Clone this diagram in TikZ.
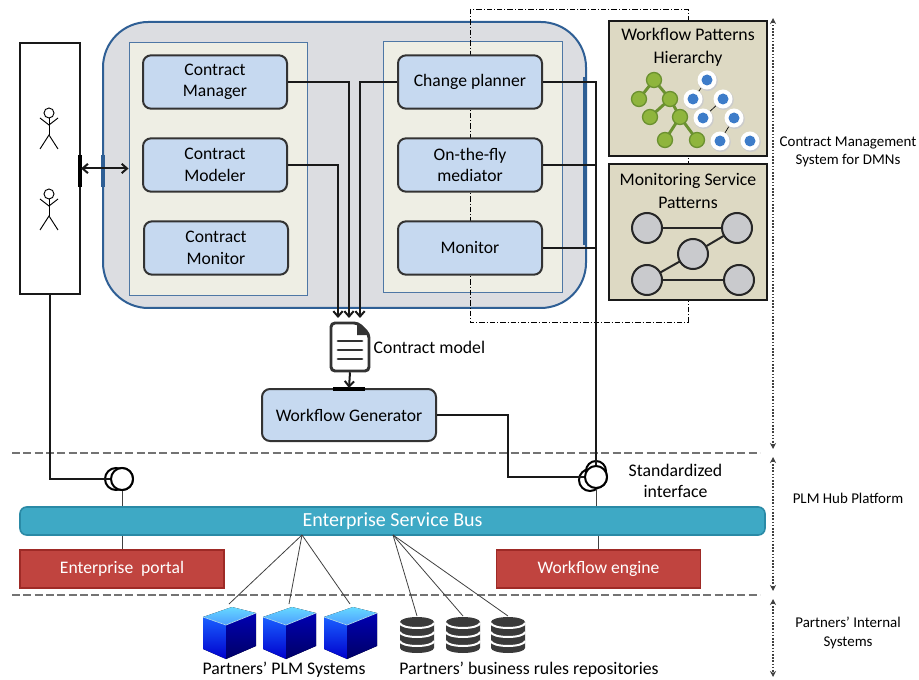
\documentclass[tikz,border=0pt]{standalone}
\usepackage{fontspec}
\setmainfont{Carlito}
\usetikzlibrary{arrows.meta}

\definecolor{cinzaSistema}{HTML}{DCDDE1}
\definecolor{azulBorda}{HTML}{2F5F95}
\definecolor{bege}{HTML}{EEEEE4}
\definecolor{azulModulo}{HTML}{C6D9F0}
\definecolor{caqui}{HTML}{DDD9C3}
\definecolor{verdeNo}{HTML}{8FB53D}
\definecolor{verdeBorda}{HTML}{6B9130}
\definecolor{azulPonto}{HTML}{3D7CC9}
\definecolor{cinzaNo}{HTML}{C9CACD}
\definecolor{barramento}{HTML}{3EA9C5}
\definecolor{barramentoBorda}{HTML}{2A8AA6}
\definecolor{vermelho}{HTML}{C0443F}
\definecolor{vermelhoBorda}{HTML}{9E2A26}
\definecolor{cinzaBanco}{HTML}{3A3A3A}

\begin{document}
\begin{tikzpicture}[x=0.75pt, y=-0.75pt, >={Straight Barb[length=4pt,width=7pt]},
    modulo/.style={draw=black!80, line width=1.5pt, fill=azulModulo, rounded corners=6pt,
        minimum width=108pt, minimum height=40pt, align=center, font=\fontsize{13.2}{16}\selectfont},
    painel/.style={draw=azulBorda!85, line width=0.7pt, fill=bege},
    padrao/.style={draw=black!90, line width=2pt, fill=caqui, minimum width=118.5pt},
    titulo/.style={align=center, font=\fontsize{13.3}{17}\selectfont},
    lateral/.style={align=center, font=\fontsize{11.2}{13.8}\selectfont},
    conn/.style={draw=black!90, line width=1.5pt},
    fio/.style={draw=black!75, line width=0.6pt},
    divisa/.style={draw=black!55, line width=1pt, dash pattern=on 6pt off 2.5pt},
    cota/.style={draw=black!75, line width=0.8pt, dash pattern=on 1.2pt off 1.2pt,
        {Stealth[length=4.5pt,width=4.5pt]}-{Stealth[length=4.5pt,width=4.5pt]}},
    interface/.style={circle, draw=black, line width=1.5pt, fill=white, minimum size=16.5pt, inner sep=0pt},
    caixaVermelha/.style={draw=vermelhoBorda, line width=1.2pt, fill=vermelho, text=white,
        minimum width=153pt, minimum height=28.5pt, font=\fontsize{13.2}{15}\selectfont}]

    \useasboundingbox (0,0) rectangle (919,680);

    % Atores
    \node[draw=black!90, line width=1.6pt, fill=white, minimum width=45pt, minimum height=188.25pt] (atores) at (50,168.5) {};
    \foreach \dy in {0,81} {
        \draw[line width=0.7pt] (49,113+\dy) circle (5);
        \draw[line width=0.7pt] (49,118+\dy) -- (49,135+\dy);
        \draw[line width=0.7pt] (40,118+\dy) -- (49,125+\dy) -- (58,118+\dy);
        \draw[line width=0.7pt] (40,149+\dy) -- (49,135+\dy) -- (58,149+\dy);
    }

    % Sistema de gestao de contratos
    \node[draw=azulBorda, line width=1.5pt, fill=cinzaSistema, rounded corners=34pt,
        minimum width=362.25pt, minimum height=214.5pt] (sistema) at (344.5,165) {};
    \node[painel, minimum width=133.5pt, minimum height=189.75pt] (pEsq) at (218,168.5) {};
    \node[painel, minimum width=134.25pt, minimum height=188.25pt] (pDir) at (472.5,166.5) {};
    \draw[azulBorda, line width=2.5pt] (585,77) -- (585,245);

    % Contorno traco-ponto
    \draw[line width=0.6pt, dash pattern=on 4pt off 1.5pt on 0.8pt off 1.5pt] (470,9) rectangle (688,322);

    % Modulos
    \node[modulo] (cman) at (215,82) {Contract\\Manager};
    \node[modulo] (cmod) at (215,165) {Contract\\Modeler};
    \node[modulo] (cmon) at (216,248) {Contract\\Monitor};
    \node[modulo] (cp) at (470,82) {Change planner};
    \node[modulo] (med) at (470,165) {On-the-fly\\mediator};
    \node[modulo] (mon) at (470,248) {Monitor};

    % Ligacao atores - sistema
    \draw[line width=2.5pt] (80,155) -- (80,187);
    \draw[azulBorda, line width=2.5pt] (103,155) -- (103,187);
    \draw[conn, <->] (atores.east) -- (pEsq.west);

    % Modelo de contrato
    \node[minimum width=30pt, minimum height=37.5pt, inner sep=0pt] (doc) at (350,347) {};
    \draw[black!80, line width=2.2pt, fill=white, rounded corners=3pt]
        (331,323) -- (358,323) -- (369,334) -- (369,371) -- (331,371) -- cycle;
    \fill[black!80] (357,323) -- (369,335) -- (357,335) -- cycle;
    \draw[black!80, line width=2.2pt, line cap=round] (338,341) -- (362,341);
    \draw[black!80, line width=2.2pt, line cap=round] (338,350) -- (362,350);
    \draw[black!80, line width=2.2pt, line cap=round] (338,359) -- (362,359);
    \node[anchor=west, font=\fontsize{13.3}{16}\selectfont] (lblDoc) at (369,347) {Contract model};

    \coordinate (entA) at (338,318);
    \coordinate (entB) at (349,318);
    \coordinate (entC) at (360,318);
    \draw[conn, ->] (cmod.east) -| (entA);
    \draw[conn, ->] (cman.east) -| (entB);
    \draw[conn, ->] (cp.west) -| (entC);

    % Gerador de workflow
    \node[modulo, minimum width=130.5pt, minimum height=39pt] (wg) at (349,415) {Workflow Generator};
    \draw[line width=2.5pt] (333,389) -- (365,389);
    \draw[conn, ->] (doc.south) -- (wg.north);

    % Padroes
    \node[padrao, minimum height=101.25pt] (wph) at (688,88.5) {};
    \node[titulo] (tWph) at (688,47) {Workflow Patterns\\Hierarchy};
    \node[padrao, minimum height=102pt] (msp) at (688,232) {};
    \node[titulo] (tMsp) at (688,191) {Monitoring Service\\Patterns};

    % arvore verde
    \draw[verdeBorda, line width=2.2pt] (639,99) -- (654,80) -- (670,99) -- (650,117);
    \draw[verdeBorda, line width=2.2pt] (670,99) -- (680,117) -- (665,140);
    \draw[verdeBorda, line width=2.2pt] (680,117) -- (697,140);
    \foreach \p in {(654,80),(639,99),(670,99),(650,117),(680,117),(665,140),(697,140)}
        \draw[verdeBorda, fill=verdeNo, line width=1pt] \p circle (7.5);

    % arvore azul
    \draw[black, line width=0.5pt] (707,80) -- (693,99);
    \draw[black, line width=0.5pt] (723,99) -- (703,118);
    \draw[black, line width=0.5pt] (734,118) -- (720,141);
    \foreach \p in {(707,80),(693,99),(723,99),(703,118),(734,118),(720,141),(750,141)} {
        \fill[black!20] \p ++(0.8,1) circle (10);
        \fill[white] \p circle (9.5);
        \fill[azulPonto] \p circle (5.5);
    }

    % grafo de monitoramento
    \draw[black!85, line width=1.5pt] (647,228) -- (737,228);
    \draw[black!85, line width=1.5pt] (647,280) -- (693,254) -- (737,228);
    \draw[black!85, line width=1.5pt] (647,280) -- (739,280);
    \foreach \p in {(647,228),(737,228),(693,254),(647,280),(739,280)}
        \draw[black!85, fill=cinzaNo, line width=1.5pt] \p circle (15);

    % Divisoes das camadas
    \draw[divisa] (12,453) -- (760,453);
    \draw[divisa] (12,595) -- (760,595);

    % Barramento e servicos
    \node[draw=barramentoBorda, line width=1.2pt, fill=barramento, rounded corners=5pt,
        minimum width=558.75pt, minimum height=21pt, text=white,
        font=\fontsize{15}{17}\selectfont] (esb) at (392.5,521) {Enterprise Service Bus};
    \node[caixaVermelha] (portal) at (122,569) {Enterprise\ \ portal};
    \node[caixaVermelha] (engine) at (598.5,569) {Workflow engine};
    \draw[fio] (portal.north) -- (portal.north |- esb.south);
    \draw[fio] (engine.north) -- (engine.north |- esb.south);

    % Interfaces
    \node[interface] (ifL) at (122,479) {};
    \draw[black, line width=1.5pt, fill=white] (116,479) circle (11);
    \node[interface] at (122,479) {};
    \draw[conn] (atores.south) |- (ifL.west);
    \draw[fio] (ifL.south) -- (ifL.south |- esb.north);

    \node[interface] (ifR) at (596,477) {};
    \draw[black, line width=1.5pt, fill=white] (590,480) circle (11);
    \draw[black, line width=1.5pt, fill=white] (596,471) circle (10);
    \node[interface] at (596,477) {};
    \draw[conn] (cp.east) -| (ifR.north);
    \draw[conn] (med.east) -- (med.east -| ifR.north);
    \draw[conn] (mon.east) -- (mon.east -| ifR.north);
    \draw[conn] (wg.east) -- ++(71,0) |- (ifR.west);
    \draw[fio] (ifR.south) -- (ifR.south |- esb.north);
    \node[anchor=west, align=center, font=\fontsize{13.3}{16}\selectfont] (lblIf) at (624,481) {Standardized\\interface};

    % Sistemas dos parceiros
    \coordinate (esbA) at (302,535);
    \coordinate (esbB) at (393,535);
    \foreach \cx [count=\i] in {230,290,351} {
        \coordinate (cubo\i) at (\cx-1,604);
        \draw[fio] (esbA) -- (cubo\i);
        \fill[top color=blue!25!cyan!60, bottom color=blue!55!cyan!70] (\cx-27,617) -- (\cx+2,607) -- (\cx+26,613) -- (\cx-4,625) -- cycle;
        \fill[top color=blue!70!cyan!90, bottom color=blue!80!black] (\cx-27,617) -- (\cx-4,625) -- (\cx-4,659) -- (\cx-27,649) -- cycle;
        \fill[top color=blue!70!black, bottom color=blue!40!black] (\cx-4,625) -- (\cx+26,613) -- (\cx+26,646) -- (\cx-4,659) -- cycle;
        \draw[white!70!cyan, line width=0.5pt] (\cx-27,617) -- (\cx-4,625) -- (\cx+26,613);
    }
    \foreach \cx [count=\i] in {417,463,508} {
        \coordinate (banco\i) at (\cx,616);
        \draw[fio] (esbB) -- (banco\i);
        \fill[cinzaBanco] (\cx-17,622) -- (\cx-17,648) arc[start angle=180, end angle=0, x radius=17, y radius=5]
            -- (\cx+17,622) arc[start angle=0, end angle=-180, x radius=17, y radius=5] -- cycle;
        \foreach \y in {623,632,641}
            \draw[white, line width=1.5pt] (\cx-17,\y) arc[start angle=180, end angle=0, x radius=17, y radius=5];
    }
    \node[font=\fontsize{13.3}{15}\selectfont] (lblPlm) at (284,670) {Partners’ PLM Systems};
    \node[font=\fontsize{13.3}{15}\selectfont] (lblBr) at (529,670) {Partners’ business rules repositories};

    % Camadas
    \draw[cota] (773,18) -- (773,449);
    \draw[cota] (773,457) -- (773,591);
    \draw[cota] (773,599) -- (773,677);
    \node[lateral] (lblCms) at (848,152) {Contract Management\\System for DMNs};
    \node[lateral] (lblHub) at (848,498) {PLM Hub Platform};
    \node[lateral] (lblPart) at (848,633) {Partners’ Internal\\Systems};

\end{tikzpicture}
\end{document}
